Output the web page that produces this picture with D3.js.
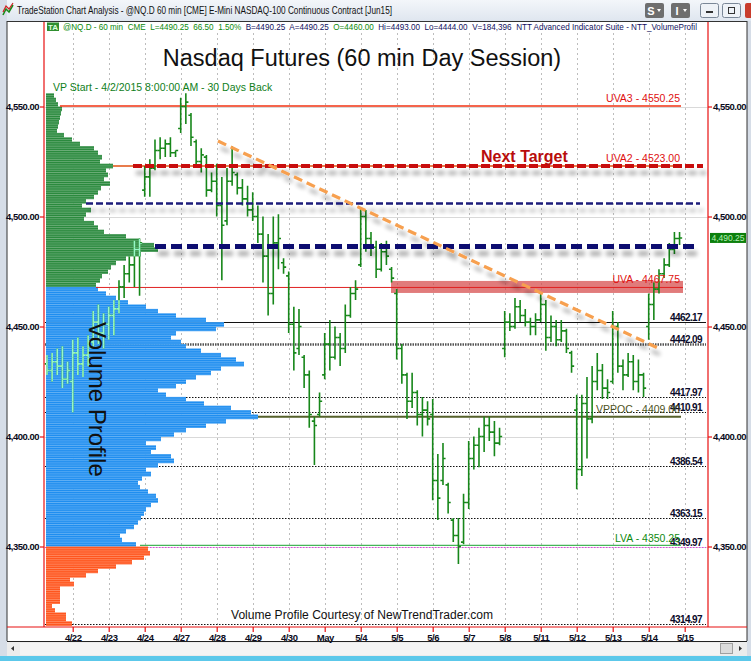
<!DOCTYPE html>
<html><head><meta charset="utf-8">
<script src="https://cdn.jsdelivr.net/npm/d3@7"></script>
<style>
body{margin:0;background:#fff;overflow:hidden}
svg{display:block;font-family:"Liberation Sans",Arial,sans-serif}
</style></head><body>
<svg id="c" width="751" height="661"></svg>
<script>
// ---------------- DATA ----------------
const days = ["4/21","4/22","4/23","4/24","4/27","4/28","4/29","4/30","May","5/4","5/5","5/6","5/7","5/8","5/11","5/12","5/13","5/14","5/15"];
const barsPerDay = 7;
// hourly OHLC bars per day session: [open, high, low, close]
const ohlc = [
 [null,null,[4433,4437,4428,4430],[4430,4438,4425,4434],[4434,4440,4428,4432],[4432,4441,4422,4426],[4426,4434,4424,4430]],
 [[4425,4444,4411,4438],[4438,4445,4428,4433],[4433,4441,4427,4437],[4437,4446,4432,4443],[4443,4457,4440,4452],[4452,4460,4442,4447],[4447,4456,4440,4451]],
 [[4451,4459,4444,4455],[4455,4462,4446,4458],[4458,4471,4456,4468],[4468,4478,4463,4474],[4474,4482,4470,4478],[4478,4489,4468,4485],[4485,4490,4464,4488]],
 [[4512,4523,4509,4518],[4518,4526,4509,4522],[4522,4535,4521,4530],[4530,4536,4526,4531],[4531,4535,4527,4533],[4533,4536,4527,4529],[4529,4530,4527,4530]],
 [[4540,4554,4538,4550],[4550,4556,4542,4552],[4546,4547,4532,4536],[4534,4535,4522,4525],[4525,4531,4520,4528],[4527,4528,4509,4512],[4512,4520,4511,4516]],
 [[4516,4524,4500,4505],[4505,4518,4471,4496],[4498,4522,4496,4516],[4516,4532,4514,4520],[4519,4520,4510,4513],[4513,4517,4505,4508],[4508,4514,4500,4503]],
 [[4503,4511,4498,4500],[4500,4505,4488,4492],[4492,4500,4470,4482],[4482,4492,4455,4465],[4465,4500,4460,4488],[4488,4501,4476,4490],[4479,4481,4474,4477]],
 [[4473,4475,4447,4451],[4451,4459,4430,4438],[4440,4458,4437,4450],[4436,4437,4422,4428],[4428,4430,4404,4410],[4407,4409,4387,4405],[4410,4420,4409,4416]],
 [[4428,4447,4426,4442],[4442,4453,4430,4436],[4436,4450,4435,4445],[4445,4447,4432,4440],[4440,4460,4438,4455],[4455,4468,4454,4465],[4465,4471,4462,4467]],
 [[4478,4504,4477,4500],[4500,4503,4484,4490],[4490,4493,4482,4486],[4486,4489,4472,4476],[4476,4488,4475,4484],[4484,4489,4478,4482],[4476,4477,4470,4472]],
 [[4465,4467,4435,4440],[4440,4442,4424,4428],[4428,4429,4408,4416],[4416,4429,4413,4420],[4420,4421,4405,4410],[4410,4418,4400,4412],[4412,4416,4405,4408]],
 [[4410,4417,4371,4380],[4380,4392,4362,4372],[4380,4397,4378,4390],[4378,4379,4365,4370],[4362,4363,4352,4355],[4355,4363,4342,4350],[4352,4374,4351,4370]],
 [[4370,4398,4367,4390],[4390,4400,4385,4396],[4396,4404,4386,4400],[4400,4409,4393,4405],[4405,4409,4398,4402],[4402,4407,4391,4397],[4397,4404,4396,4400]],
 [[4440,4457,4436,4452],[4452,4456,4448,4450],[4450,4463,4449,4459],[4459,4462,4452,4455],[4455,4458,4450,4452],[4452,4454,4446,4450],[4450,4456,4446,4453]],
 [[4453,4465,4452,4460],[4460,4462,4439,4445],[4445,4455,4443,4450],[4450,4453,4441,4444],[4444,4453,4443,4448],[4448,4449,4438,4440],[4438,4439,4429,4432]],
 [[4412,4419,4376,4385],[4385,4419,4382,4415],[4415,4427,4390,4408],[4408,4432,4406,4425],[4425,4438,4421,4430],[4430,4433,4417,4422],[4422,4426,4417,4420]],
 [[4425,4457,4424,4450],[4450,4452,4429,4432],[4432,4435,4421,4428],[4428,4438,4427,4434],[4434,4437,4421,4425],[4425,4435,4420,4428],[4428,4429,4418,4422]],
 [[4450,4465,4444,4460],[4460,4470,4453,4467],[4467,4476,4465,4474],[4474,4481,4472,4478],[4478,4488,4477,4485],[4485,4493,4483,4490],[4490,4493,4487,4490.25]]
];
// volume profile: 2-point price bins, listed from the top bin (upper edge 4556) downwards
const profileTop = 4556;
const profileStep = 2;
const profileVolume = [8,10,12,16,15,14,13,12,11,18,26,34,48,52,56,54,67,60,62,58,64,55,52,48,40,36,45,40,38,48,52,58,80,94,108,112,95,80,70,65,62,56,54,50,
 52,60,70,82,100,112,130,160,178,170,130,125,135,140,155,175,190,198,175,165,150,140,130,112,120,140,158,185,205,212,180,160,140,128,115,100,110,105,125,128,112,100,105,96,92,94,102,110,112,105,100,98,95,92,88,80,74,76,90,
 102,104,98,86,70,52,40,24,28,14,14,14,14,6,9,20,20,26];
const uvaPrice = 4467.75, lvaPrice = 4350.25;
const priceTicks = [4550,4500,4450,4400,4350];
// level lines on the right (label, price at which the line is drawn, style)
const levelLabels = ["4462.17","4442.09","4417.97","4410.91","4386.54","4363.15","4349.97","4314.97"];
const levelPrices = [4452.2,4442.09,4417.97,4410.91,4386.54,4363.15,4349.97,4314.97];
const levelStyles = ["solid","thick","dot","dot","dot","dot","pink","dot"];
// named value-area levels
const vaNames = ["UVA3","UVA2","UVA","VPPOC","LVA"];
const vaPrices = [4550.25,4523.00,4467.75,4409.00,4350.25];
// hand-drawn lines
const navyThin = 4505.9, navyThick = 4486.4;
const trendline = [[35.25,4534.3],[120.8,4440.2]]; // [bar index, price]

// ---------------- DRAW ----------------
const svg = d3.select("#c");
const W=751,H=661;
const P = {left:44, right:708, top:22, bottom:627};
const y = d3.scaleLinear().domain([4350,4550]).range([546.5,106.5]);
const x = d3.scaleLinear().domain([0,(days.length-1)*barsPerDay]).range([36.7,684.7]);
const xv = d3.scaleLinear().domain([0,212]).range([46,258]);

const defs = svg.append("defs");
defs.append("clipPath").attr("id","plotClip").append("rect")
  .attr("x",P.left+0.5).attr("y",P.top).attr("width",P.right-P.left-1).attr("height",P.bottom-P.top);
const sh = defs.append("filter").attr("id","shadow").attr("filterUnits","userSpaceOnUse")
  .attr("x",0).attr("y",0).attr("width",W).attr("height",H);
sh.append("feGaussianBlur").attr("in","SourceAlpha").attr("stdDeviation",2.2).attr("result","b");
sh.append("feOffset").attr("in","b").attr("dx",3).attr("dy",7).attr("result","o");
sh.append("feComponentTransfer").attr("in","o").attr("result","t").append("feFuncA").attr("type","linear").attr("slope",0.32);
const mg = sh.append("feMerge"); mg.append("feMergeNode").attr("in","t"); mg.append("feMergeNode").attr("in","SourceGraphic");

// window chrome
svg.append("rect").attr("width",W).attr("height",H).attr("fill","#fff");
const tg = defs.append("linearGradient").attr("id","tbar").attr("x1",0).attr("y1",0).attr("x2",0).attr("y2",1);
tg.append("stop").attr("offset",0).attr("stop-color","#f3f6fa");
tg.append("stop").attr("offset",1).attr("stop-color","#dfe6ef");
svg.append("rect").attr("width",W).attr("height",21).attr("fill","url(#tbar)");
svg.append("rect").attr("x",0).attr("y",0).attr("width",7).attr("height",H).attr("fill","#d6dde7");
svg.append("rect").attr("x",747).attr("y",21).attr("width",4).attr("height",H).attr("fill","#d6dde7");
svg.append("line").attr("x1",7).attr("x2",7).attr("y1",21).attr("y2",641).attr("stroke","#333");
svg.append("line").attr("x1",747).attr("x2",747).attr("y1",21).attr("y2",641).attr("stroke","#333");
svg.append("line").attr("x1",7).attr("x2",747).attr("y1",21.5).attr("y2",21.5).attr("stroke","#333");
// icon
svg.append("path").attr("d","M3,15 L6,9 L9,12 L13,5").attr("fill","none").attr("stroke","#1a8a1a").attr("stroke-width",1.6);
svg.append("path").attr("d","M3,12 L6,6 L9,9 L13,3").attr("fill","none").attr("stroke","#d02020").attr("stroke-width",1.2);
svg.append("text").attr("x",17).attr("y",14).attr("font-size",10.5).attr("fill","#111")
  .attr("textLength",375).attr("lengthAdjust","spacingAndGlyphs")
  .text("TradeStation Chart Analysis - @NQ.D 60 min [CME] E-Mini NASDAQ-100 Continuous Contract [Jun15]");
[["S",645],["I",671]].forEach(([t,bx])=>{
  svg.append("rect").attr("x",bx).attr("y",3).attr("width",19).attr("height",15).attr("rx",2).attr("fill","#6e6e6e");
  svg.append("text").attr("x",bx+6).attr("y",14.5).attr("font-size",11).attr("font-weight","bold").attr("fill","#fff").attr("text-anchor","middle").text(t);
  svg.append("path").attr("d",`M${bx+12},9 l4,0 l-2,3z`).attr("fill","#fff");
});
[[700,"min"],[722,"max"]].forEach(([bx,k])=>{
  svg.append("rect").attr("x",bx+0.5).attr("y",3.5).attr("width",18).attr("height",14).attr("rx",2).attr("fill","#eef2f7").attr("stroke","#7a8797");
  if(k==="min") svg.append("rect").attr("x",bx+6).attr("y",11).attr("width",7).attr("height",2).attr("fill","#333");
  else svg.append("rect").attr("x",bx+6.5).attr("y",7.5).attr("width",6).attr("height",6).attr("fill","none").attr("stroke","#333");
});
svg.append("rect").attr("x",745).attr("y",3).attr("width",10).attr("height",15).attr("rx",2).attr("fill","#c83c2c");

// status line
svg.append("rect").attr("x",47).attr("y",22.5).attr("width",12).attr("height",8.5).attr("fill","#2f8f2f");
svg.append("text").attr("x",53).attr("y",30).attr("font-size",8).attr("font-weight","bold").attr("fill","#dfffdf").attr("text-anchor","middle").text("TA");
const st = svg.append("text").attr("x",63).attr("y",30).attr("font-size",8.5)
  .attr("textLength",634).attr("lengthAdjust","spacingAndGlyphs");
[["@NQ.D - 60 min  CME  L=4490.25  66.50  1.50%  ","#0a8a0a"],["B=4490.25  A=4490.25  ","#101060"],["O=4460.00  ","#0a8a0a"],
 ["Hi=4493.00  Lo=4444.00  V=184,396  NTT Advanced Indicator Suite - NTT_VolumeProfil","#101060"]]
 .forEach(([t,c])=>st.append("tspan").attr("fill",c).attr("xml:space","preserve").text(t));

// bottom chrome
svg.append("line").attr("x1",7).attr("x2",747).attr("y1",641.5).attr("y2",641.5).attr("stroke","#222");
svg.append("rect").attr("x",7).attr("y",642).attr("width",740).attr("height",14).attr("fill","#ececec");
svg.append("rect").attr("x",20).attr("y",643).attr("width",700).attr("height",12).attr("fill","#f4f4f4");
svg.append("rect").attr("x",720.5).attr("y",643.5).attr("width",12).attr("height",10).attr("fill","#dcdcdc").attr("stroke","#a0a0a0");
svg.append("path").attr("d","M11,648.5 l3,-2.5 v5z").attr("fill","#333");
svg.append("path").attr("d","M742,648.5 l-3,-2.5 v5z").attr("fill","#333");
svg.append("rect").attr("x",0).attr("y",656).attr("width",W).attr("height",5).attr("fill","#5cc8ea");

// grid
const grid = svg.append("g").attr("clip-path","url(#plotClip)");
grid.selectAll(".hg").data(priceTicks).join("line")
  .attr("x1",P.left).attr("x2",P.right).attr("y1",d=>Math.round(y(d))+0.5).attr("y2",d=>Math.round(y(d))+0.5)
  .attr("stroke","#d9d9d9");
const dayTicks = d3.range(1,days.length).map(i=>i*barsPerDay);
grid.selectAll(".vg").data(dayTicks).join("line")
  .attr("x1",d=>Math.round(x(d))+0.5).attr("x2",d=>Math.round(x(d))+0.5).attr("y1",33).attr("y2",P.bottom)
  .attr("stroke","#bdbdbd").attr("stroke-dasharray","2,3");

// UVA zone rectangle
grid.append("rect").attr("x",391).attr("width",683-391)
  .attr("y",y(uvaPrice)-6.5).attr("height",12).attr("fill","#d54848").attr("opacity",0.72);

// level lines
const lv = svg.append("g").attr("clip-path","url(#plotClip)");
const levelRows = levelLabels.map((l,i)=>({label:l,price:levelPrices[i],style:levelStyles[i]}));

// profile
const bins = profileVolume.map((v,i)=>({top:profileTop-i*profileStep, vol:v}));
const binColor = b => b.top-profileStep >= 4468 ? "#2b8a3e" : (b.top-profileStep >= 4350 ? "#1f8ef0" : "#ff561e");
const binRect = sel => sel.attr("x",46).attr("y",d=>y(d.top)).attr("width",d=>xv(d.vol)-46)
  .attr("height",d=>y(d.top-profileStep)-y(d.top)+0.3);
svg.append("g").selectAll("rect").data(bins).join("rect").call(binRect).attr("fill",binColor);
defs.append("clipPath").attr("id","profClip").selectAll("rect").data(bins).join("rect").call(binRect);
// fine stripes of the per-point profile rows
svg.append("g").attr("clip-path","url(#profClip)").selectAll("line")
  .data(d3.range(4314,4557,1)).join("line")
  .attr("x1",46).attr("x2",260).attr("y1",d=>y(d)).attr("y2",d=>y(d))
  .attr("stroke","#ffffff").attr("stroke-opacity",0.35).attr("stroke-width",0.7);

// level lines over the profile
lv.selectAll("line").data(levelRows).join("line")
  .attr("x1",P.left+1).attr("x2",706)
  .attr("y1",d=>Math.round(y(d.price))+0.5).attr("y2",d=>Math.round(y(d.price))+0.5)
  .attr("stroke",d=>d.style==="pink"?"#e040e0":(d.style==="thick"?"#555":"#111"))
  .attr("stroke-width",d=>d.style==="thick"?2.5:1)
  .attr("stroke-dasharray",d=>d.style==="solid"?null:(d.style==="thick"?"1.5,1":"1.5,1.5"));
svg.append("g").selectAll("text").data(levelRows).join("text")
  .attr("x",702).attr("y",d=>Math.round(y(d.price))-1.5).attr("text-anchor","end")
  .attr("font-size",10).attr("font-weight","bold").attr("fill","#0b0b2a").attr("letter-spacing",-0.6)
  .text(d=>d.label);

// value area lines
const va = svg.append("g");
va.append("line").attr("x1",60).attr("x2",681).attr("y1",y(vaPrices[0])).attr("y2",y(vaPrices[0])).attr("stroke","#f03010").attr("stroke-width",1.5);
va.append("line").attr("x1",113).attr("x2",681).attr("y1",y(vaPrices[1])).attr("y2",y(vaPrices[1])).attr("stroke","#e05010").attr("stroke-width",1.5);
va.append("line").attr("x1",96).attr("x2",683).attr("y1",y(vaPrices[2])).attr("y2",y(vaPrices[2])).attr("stroke","#e02020").attr("stroke-width",1);
va.append("line").attr("x1",258).attr("x2",681).attr("y1",y(vaPrices[3])).attr("y2",y(vaPrices[3])).attr("stroke","#55602a").attr("stroke-width",2);
va.append("line").attr("x1",140).attr("x2",681).attr("y1",y(vaPrices[4])-0.5).attr("y2",y(vaPrices[4])-0.5).attr("stroke","#46b45a").attr("stroke-width",1.2);

// price bars
const barRows = [];
ohlc.forEach((day,d)=>day.forEach((b,k)=>{ if(b) barRows.push({i:d*barsPerDay+k,o:b[0],h:b[1],l:b[2],c:b[3]}); }));
const barPath = d => {const X=x(d.i);return `M${X},${y(d.h)}V${y(d.l)}M${X-2.6},${y(d.o)}H${X}M${X},${y(d.c)}H${X+2.6}`;};
svg.append("g").attr("clip-path","url(#plotClip)").selectAll("path").data(barRows).join("path")
  .attr("d",barPath).attr("fill","none").attr("stroke","#17871a").attr("stroke-width",1.6);
svg.append("g").attr("clip-path","url(#profClip)").selectAll("path").data(barRows).join("path")
  .attr("d",barPath).attr("fill","none").attr("stroke","#98f7c8").attr("stroke-width",1.6);

// dashed hand-drawn lines with shadows
const dl = svg.append("g").attr("filter","url(#shadow)");
dl.append("line").attr("x1",133).attr("x2",703).attr("y1",y(vaPrices[1])).attr("y2",y(vaPrices[1]))
  .attr("stroke","#c80f0f").attr("stroke-width",4).attr("stroke-dasharray","9,3");
dl.append("line").attr("x1",86).attr("x2",700).attr("y1",y(navyThin)).attr("y2",y(navyThin))
  .attr("stroke","#1b1b7a").attr("stroke-width",2.5).attr("stroke-dasharray","7,3");
dl.append("line").attr("x1",155).attr("x2",694).attr("y1",y(navyThick)).attr("y2",y(navyThick))
  .attr("stroke","#0c0c70").attr("stroke-width",5).attr("stroke-dasharray","11,5");
dl.append("line").attr("x1",x(trendline[0][0])).attr("y1",y(trendline[0][1]))
  .attr("x2",x(trendline[1][0])).attr("y2",y(trendline[1][1]))
  .attr("stroke","#f7a050").attr("stroke-width",3.2).attr("stroke-dasharray","9,5");

// frame (red)
svg.append("line").attr("x1",P.left).attr("x2",P.left).attr("y1",P.top).attr("y2",P.bottom).attr("stroke","#e81010").attr("stroke-width",1.2);
svg.append("line").attr("x1",P.right).attr("x2",P.right).attr("y1",P.top).attr("y2",P.bottom).attr("stroke","#e81010").attr("stroke-width",1.2);
svg.append("line").attr("x1",7).attr("x2",747).attr("y1",P.bottom).attr("y2",P.bottom).attr("stroke","#e81010").attr("stroke-width",1.2);

// axes
const styleAxis = g => { g.select(".domain").remove(); g.selectAll("line").attr("stroke","#e81010").attr("stroke-width",1.2);
  g.selectAll("text").attr("font-size",9.5).attr("font-weight","bold").attr("fill","#0a0a20").attr("font-family","Liberation Sans, Arial").attr("letter-spacing",-0.5); };
svg.append("g").attr("transform",`translate(${P.left},0)`)
  .call(d3.axisLeft(y).tickValues(priceTicks).tickSize(4).tickPadding(1).tickFormat(d3.format(",.2f"))).call(styleAxis);
svg.append("g").attr("transform",`translate(${P.right},0)`)
  .call(d3.axisRight(y).tickValues(priceTicks).tickSize(4).tickPadding(1).tickFormat(d3.format(",.2f"))).call(styleAxis);
svg.append("g").attr("transform",`translate(0,${P.bottom})`)
  .call(d3.axisBottom(x).tickValues(dayTicks).tickSize(5).tickPadding(2).tickFormat(i=>days[i/barsPerDay])).call(styleAxis);

// last price marker
const lastClose = ohlc[ohlc.length-1][barsPerDay-1][3];
svg.append("rect").attr("x",710).attr("y",y(lastClose)-5).attr("width",36).attr("height",10).attr("fill","#0c7f0c");
svg.append("text").attr("x",728).attr("y",y(lastClose)+3).attr("text-anchor","middle").attr("font-size",8.5)
  .attr("fill","#b8f0b8").text(d3.format(",.2f")(lastClose));

// texts
svg.append("text").attr("x",362).attr("y",66).attr("text-anchor","middle").attr("font-size",23.5).attr("fill","#111")
  .text("Nasdaq Futures (60 min Day Session)");
svg.append("text").attr("x",53).attr("y",91).attr("font-size",10.5).attr("fill","#10801a")
  .text("VP Start - 4/2/2015 8:00:00 AM - 30 Days Back");
const vaText = [["UVA3 - 4550.25",vaPrices[0],"#e01010"],["UVA2 - 4523.00",vaPrices[1],"#e01010"],["UVA - 4467.75",vaPrices[2],"#e01010"],
  ["VPPOC - 4409.00",vaPrices[3],"#4d5322"],["LVA - 4350.25",vaPrices[4],"#108a10"]];
svg.append("g").selectAll("text").data(vaText).join("text")
  .attr("x",680).attr("y",d=>y(d[1])-4).attr("text-anchor","end").attr("font-size",10.5).attr("fill",d=>d[2]).text(d=>d[0]);
svg.append("text").attr("x",481).attr("y",162).attr("font-size",16).attr("font-weight","bold").attr("fill","#b80c0c").text("Next Target");
svg.append("text").attr("transform","translate(89,322) rotate(90)").attr("font-size",24).attr("fill","#111").text("Volume Profile");
svg.append("text").attr("x",231).attr("y",619).attr("font-size",12).attr("fill","#111")
  .attr("textLength",262).attr("lengthAdjust","spacingAndGlyphs").text("Volume Profile Courtesy of NewTrendTrader.com");
</script>
</body></html>
